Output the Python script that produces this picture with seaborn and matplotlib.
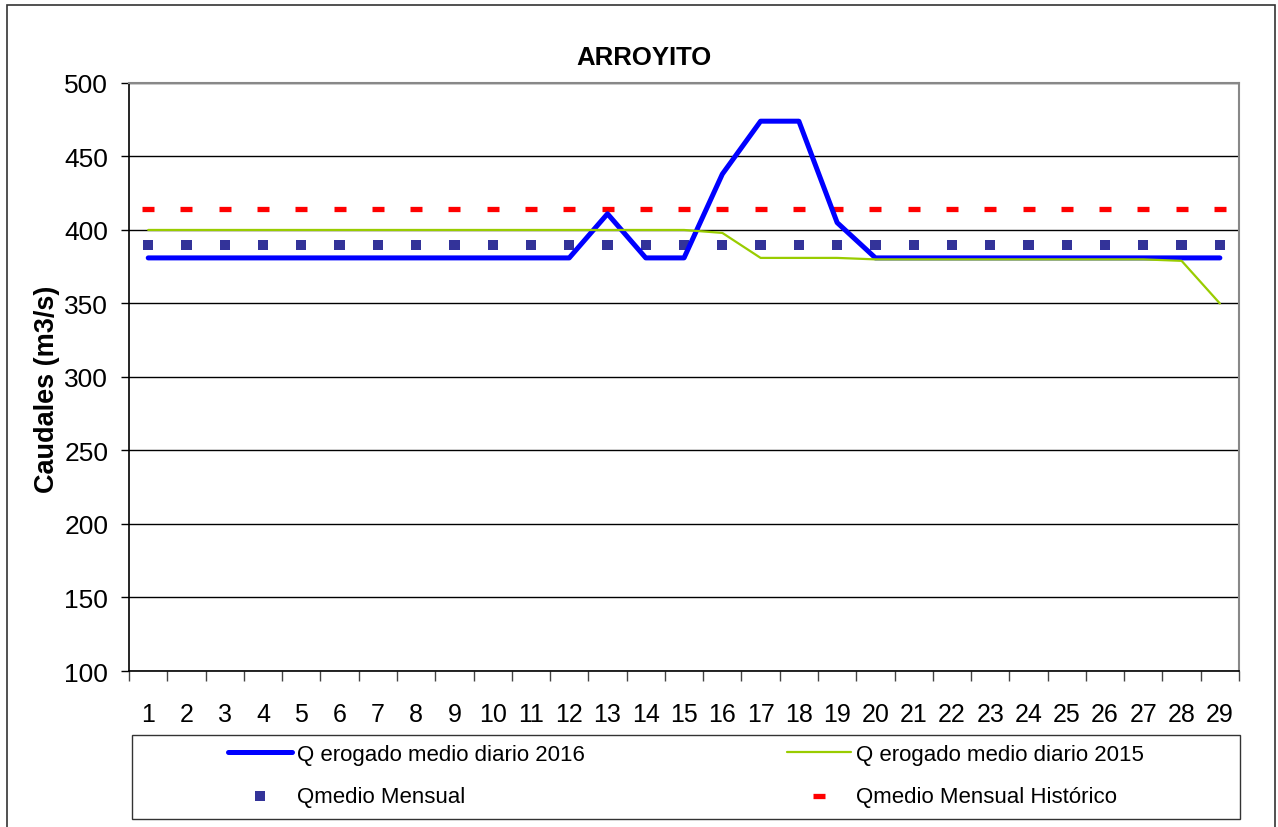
import seaborn as sns
import matplotlib.pyplot as plt
import numpy as np
import pandas as pd
from matplotlib.patches import Rectangle
from matplotlib.ticker import MultipleLocator

days = list(range(1, 30))
q_2016 = [381, 381, 381, 381, 381, 381, 381, 381, 381, 381, 381, 381, 411, 381, 381,
          438, 474, 474, 405, 381, 381, 381, 381, 381, 381, 381, 381, 381, 381]
q_2015 = [400, 400, 400, 400, 400, 400, 400, 400, 400, 400, 400, 400, 400, 400, 400,
          398, 381, 381, 381, 380, 380, 380, 380, 380, 380, 380, 380, 379, 350]
q_medio_mensual = [390] * 29
q_medio_historico = [414] * 29

df = pd.DataFrame({'dia': days, 'q2016': q_2016, 'q2015': q_2015,
                   'qmm': q_medio_mensual, 'qmh': q_medio_historico})

sns.set_style("white")
plt.rcParams['font.family'] = ['Liberation Sans', 'DejaVu Sans']
plt.rcParams['text.color'] = 'black'
plt.rcParams['axes.labelcolor'] = 'black'
plt.rcParams['xtick.color'] = 'black'
plt.rcParams['ytick.color'] = 'black'

fig = plt.figure(figsize=(12.78, 8.28), dpi=100)
ax = fig.add_axes([0.101, 0.1884, 0.8685, 0.7102])

sns.lineplot(x='dia', y='q2016', data=df, ax=ax, color='#0000FF', linewidth=3.6,
             solid_capstyle='round', label='Q erogado medio diario 2016', zorder=4)
sns.lineplot(x='dia', y='q2015', data=df, ax=ax, color='#99CC00', linewidth=1.6,
             label='Q erogado medio diario 2015', zorder=5)
sns.scatterplot(x='dia', y='qmm', data=df, ax=ax, marker='s', s=55, color='#333399',
                edgecolor='none', label='Qmedio Mensual', zorder=3)
sns.scatterplot(x='dia', y='qmh', data=df, ax=ax, marker='_', s=80, color='#FF0000',
                linewidth=3.8, label='Qmedio Mensual Histórico', zorder=3)

ax.set_xlim(0.5, 29.5)
ax.set_ylim(100, 500)
ax.yaxis.set_major_locator(MultipleLocator(50))
ax.set_xticks(days)
ax.set_xticks(np.arange(0.5, 30, 1), minor=True)
ax.tick_params(axis='x', which='major', length=0, pad=22, labelsize=18)
ax.tick_params(axis='x', which='minor', length=7, width=1, color='#444444', direction='out', bottom=True)
ax.tick_params(axis='y', length=6, width=1, color='black', direction='out', left=True, labelsize=19, pad=9)
ax.grid(axis='y', color='black', linewidth=1)
ax.set_axisbelow(True)
ax.set_xlabel('')
ax.set_ylabel('Caudales (m3/s)', fontsize=19.5, fontweight='bold')
ax.yaxis.label.set_va('center')
ax.yaxis.set_label_coords(-0.074, 0.48)

for side in ['left', 'bottom']:
    ax.spines[side].set_color('black')
    ax.spines[side].set_linewidth(1.2)
for side in ['top', 'right']:
    ax.spines[side].set_color('#888888')
    ax.spines[side].set_linewidth(1.5)

fig.text(0.504, 0.93, 'ARROYITO', ha='center', va='center', fontsize=18.5, fontweight='bold')

handles, labels = ax.get_legend_handles_labels()
ax.get_legend().remove()

leg_kw = dict(loc='center left', fontsize=16, frameon=False, handlelength=2.9,
              handletextpad=0.2, borderpad=0, borderaxespad=0, labelspacing=0.95)
leg1 = fig.legend([handles[0], handles[2]], [labels[0], labels[2]],
                  bbox_to_anchor=(228 / 1278, 1 - 776.5 / 828), **leg_kw)
leg2 = fig.legend([handles[1], handles[3]], [labels[1], labels[3]],
                  bbox_to_anchor=(787 / 1278, 1 - 776.5 / 828), **leg_kw)

fig.patches.append(Rectangle((132 / 1278, 1 - 820 / 828), 1108 / 1278, 84 / 828,
                             transform=fig.transFigure, fill=False,
                             edgecolor='#333333', linewidth=1))
fig.patches.append(Rectangle((0.0055, -0.01), 0.992, 1.003, transform=fig.transFigure,
                             fill=False, edgecolor='#333333', linewidth=1.2))

fig.savefig('out.png', dpi=100)
